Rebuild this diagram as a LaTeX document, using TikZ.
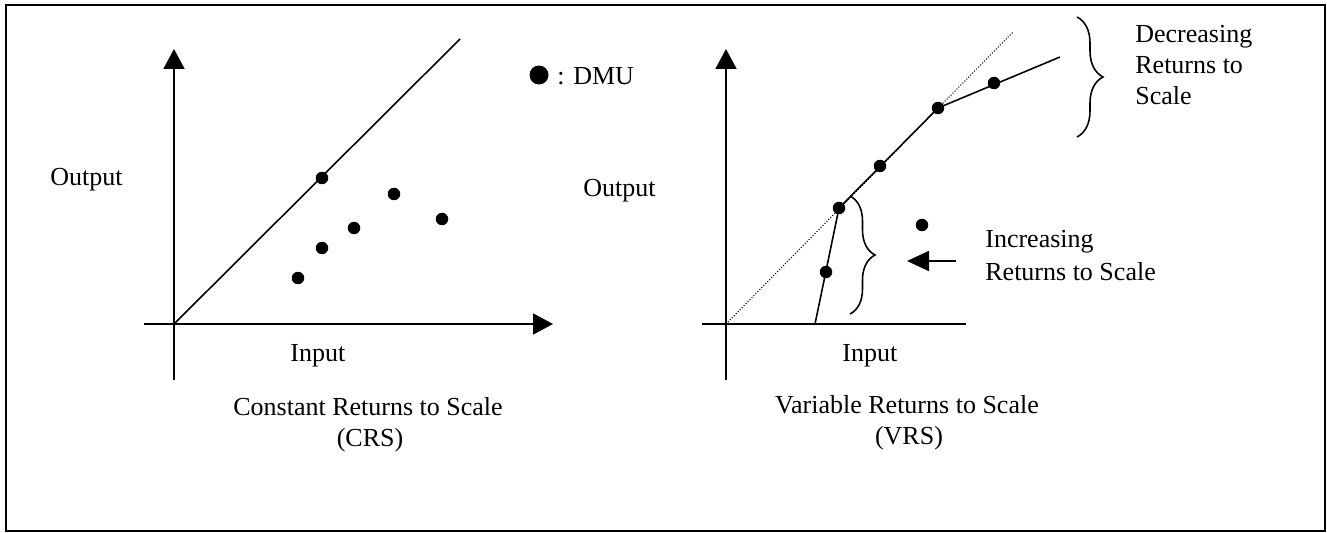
\documentclass[tikz,border=0pt]{standalone}
\usepackage{fontspec}
\setmainfont{Liberation Serif}
\usetikzlibrary{arrows.meta,decorations.pathreplacing}

\tikzset{
  axis/.style={line width=1.1pt,-{Triangle[length=0.4cm,width=0.42cm]}},
  bareaxis/.style={line width=1.1pt},
  frontier/.style={line width=0.9pt},
  dmu/.style={circle,fill=black,inner sep=0pt,minimum size=0.25cm},
  lbl/.style={inner sep=0pt,font=\fontsize{14.8pt}{18pt}\selectfont},
  bracket/.style={decorate,decoration={brace,amplitude=0.5cm},line width=0.9pt},
  pointer/.style={line width=1pt,-{Triangle[length=0.44cm,width=0.4cm]}}
}

\begin{document}
\begin{tikzpicture}[x=0.02cm,y=-0.02cm]
% one unit = one pixel of the page, y grows downwards
\path[use as bounding box] (0,0) rectangle (1327,533);
\draw[line width=1.3pt] (6,5) rectangle (1325,531);

% ---- left chart: CRS
\coordinate (oL) at (174,324);
\coordinate (yTopL) at (174,49);
\coordinate (yBotL) at (174,380);
\coordinate (xLeftL) at (144,324);
\coordinate (xRightL) at (553,324);
\coordinate (crsEnd) at (460,39);

\draw[axis] (yBotL) -- (yTopL);
\draw[axis] (xLeftL) -- (xRightL);
\draw[frontier] (oL) -- (crsEnd);

\foreach \name/\px/\py in {c1/322/178, c2/394/194, c3/442/219, c4/354/228, c5/322/248, c6/298/278} {
    \node[dmu] (\name) at (\px,\py) {};
}

\node[lbl,anchor=base west] (outL) at (50,186) {Output};
\node[lbl,anchor=base west] (inL) at (290,361) {Input};
\node[lbl,anchor=base] (crs) at (368,415) {Constant Returns to Scale};
\node[lbl,anchor=base] (crsAbbr) at (370,446) {(CRS)};

% legend
\node[dmu,minimum size=0.38cm] (legDot) at (539,75) {};
\node[lbl,anchor=base west] (legTxt) at (557,85) {: DMU};

% ---- right chart: VRS
\coordinate (oR) at (726,324);
\coordinate (yTopR) at (726,49);
\coordinate (yBotR) at (726,380);
\coordinate (xLeftR) at (702,324);
\coordinate (xRightR) at (966,324);
\coordinate (vrsFoot) at (815,324);
\coordinate (vrsEnd) at (1060,57);
\coordinate (rayEnd) at (1013,32);

\draw[axis] (yBotR) -- (yTopR);
\draw[bareaxis] (xLeftR) -- (xRightR);
\draw[densely dotted,line width=0.6pt] (oR) -- (rayEnd);

\foreach \name/\px/\py in {v1/826/272, v2/839/208, v3/880/166, v4/938/108, v5/994/83, v6/922/225} {
    \node[dmu] (\name) at (\px,\py) {};
}
\draw[frontier] (vrsFoot) -- (v2.center) -- (v4.center) -- (vrsEnd);

\node[lbl,anchor=base west] (outR) at (583,197) {Output};
\node[lbl,anchor=base west] (inR) at (842,361) {Input};
\node[lbl,anchor=base] (vrs) at (907,413) {Variable Returns to Scale};
\node[lbl,anchor=base] (vrsAbbr) at (909,444) {(VRS)};

% increasing part
\coordinate (irsTop) at (850,196);
\coordinate (irsBot) at (850,314);
\draw[bracket] (irsTop) -- (irsBot);
\coordinate (irsTail) at (956,261);
\coordinate (irsTip) at (907,261);
\draw[pointer] (irsTail) -- (irsTip);
\node[lbl,anchor=base west] (irs1) at (985,248) {Increasing};
\node[lbl,anchor=base west] (irs2) at (985,280) {Returns to Scale};

% decreasing part
\coordinate (drsTop) at (1077,17);
\coordinate (drsBot) at (1077,137);
\draw[bracket,decoration={amplitude=0.52cm}] (drsTop) -- (drsBot);
\node[lbl,anchor=base west] (drs1) at (1135,43) {Decreasing};
\node[lbl,anchor=base west] (drs2) at (1135,74) {Returns to};
\node[lbl,anchor=base west] (drs3) at (1135,105) {Scale};

\end{tikzpicture}
\end{document}
